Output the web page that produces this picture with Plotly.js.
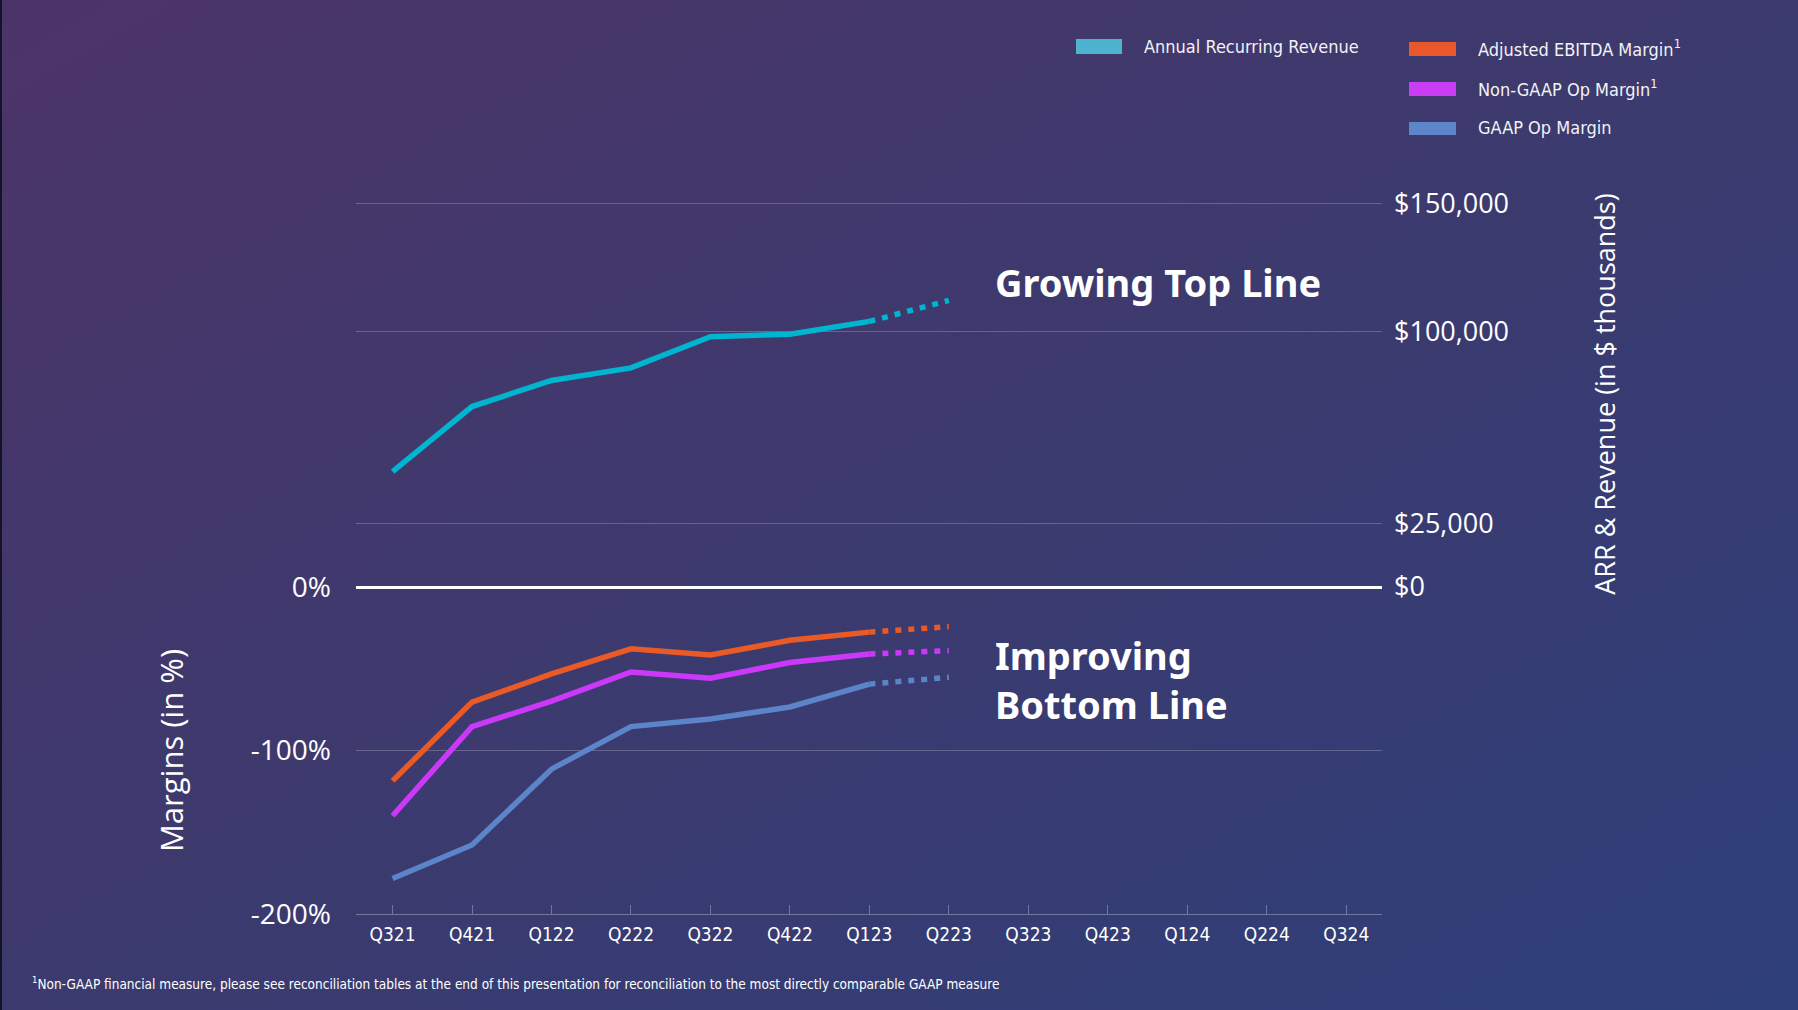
<!DOCTYPE html>
<html>
<head>
<meta charset="utf-8">
<script src="https://cdn.plot.ly/plotly-3.0.1.min.js"></script>
<style>
  html, body { margin: 0; padding: 0; }
  #chart {
    width: 1798px; height: 1010px;
    background: linear-gradient(to bottom right, #4c3468 0%, #3c3a6e 50%, #2e3f7a 100%);
    box-shadow: inset 2px 0 0 #141428;
  }
</style>
</head>
<body>
<div id="chart"></div>
<script>
// ---------- data ----------
const quarters = ['Q321','Q421','Q122','Q222','Q322','Q422','Q123','Q223','Q323','Q423','Q124','Q224','Q324'];
const actualQuarters = ['Q321','Q421','Q122','Q222','Q322','Q422','Q123'];
const projectedQuarter = 'Q223';

// ARR in $ thousands
const arr = [45100, 70600, 80800, 85700, 97900, 98900, 103900];
const arrProjected = 112100;

// Margins in %
const adjEbitdaMargin = [-118.6, -70.4, -53.1, -37.8, -41.6, -32.6, -27.6];
const adjEbitdaProjected = -24.3;
const nonGaapOpMargin = [-139.9, -85.4, -69.8, -52.0, -55.8, -46.2, -41.0];
const nonGaapProjected = -38.9;
const gaapOpMargin = [-178.3, -157.8, -111.4, -85.4, -80.7, -73.4, -59.4];
const gaapProjected = -55.2;

const seriesNames = ['Annual Recurring Revenue', 'Adjusted EBITDA Margin<sup>1</sup>', 'Non-GAAP Op Margin<sup>1</sup>', 'GAAP Op Margin'];

const marginTicks = [0, -100, -200];
const marginTickText = ['0%', '-100%', '-200%'];
const arrTicks = [0, 25000, 100000, 150000];
const arrTickText = ['$0', '$25,000', '$100,000', '$150,000'];

const footnote = '<sup>1</sup>Non-GAAP financial measure, please see reconciliation tables at the end of this presentation for reconciliation to the most directly comparable GAAP measure';

// ---------- styles ----------
const colors = { arr: '#00b5cf', ebitda: '#ea5a27', nongaap: '#cc38fa', gaap: '#5b84c9' };
const legendColors = ['#4cb4cf', '#e9582a', '#c93df5', '#5d85c9'];
const LW = 5.5;
const DOT = '6px,7px';
const condensed = 'DejaVu Sans Condensed, Liberation Sans Narrow, Roboto Condensed, Liberation Sans, sans-serif';

const L = 356, R = 1382, T = 201, B = 914;
const px = p => (p - L) / (R - L);
const py = p => (B - p) / (B - T);
const zeroFrac = (B - 587) / (B - T);

function pair(last, proj) { return [last[last.length - 1], proj]; }

const last = actualQuarters[actualQuarters.length - 1];

const traces = [
  { x: actualQuarters, y: arr, yaxis: 'y2', mode: 'lines', line: { color: colors.arr, width: LW }, name: seriesNames[0] },
  { x: [last, projectedQuarter], y: pair(arr, arrProjected), yaxis: 'y2', mode: 'lines', line: { color: colors.arr, width: LW, dash: DOT } },
  { x: actualQuarters, y: adjEbitdaMargin, mode: 'lines', line: { color: colors.ebitda, width: LW }, name: seriesNames[1] },
  { x: [last, projectedQuarter], y: pair(adjEbitdaMargin, adjEbitdaProjected), mode: 'lines', line: { color: colors.ebitda, width: LW, dash: DOT } },
  { x: actualQuarters, y: nonGaapOpMargin, mode: 'lines', line: { color: colors.nongaap, width: LW }, name: seriesNames[2] },
  { x: [last, projectedQuarter], y: pair(nonGaapOpMargin, nonGaapProjected), mode: 'lines', line: { color: colors.nongaap, width: LW, dash: DOT } },
  { x: actualQuarters, y: gaapOpMargin, mode: 'lines', line: { color: colors.gaap, width: LW }, name: seriesNames[3] },
  { x: [last, projectedQuarter], y: pair(gaapOpMargin, gaapProjected), mode: 'lines', line: { color: colors.gaap, width: LW, dash: DOT } }
];

const gridColor = 'rgba(255,255,255,0.22)';
const numFont = { family: 'Open Sans, sans-serif', color: '#ffffff' };

// legend built from shapes + text
const legendBoxes = [
  { x0: 1076, x1: 1122, y0: 39, y1: 54, tx: 1142, ty: 47 },
  { x0: 1409, x1: 1456, y0: 42, y1: 56, tx: 1476, ty: 48 },
  { x0: 1409, x1: 1456, y0: 82, y1: 96, tx: 1476, ty: 88 },
  { x0: 1409, x1: 1456, y0: 122, y1: 135, tx: 1476, ty: 128 }
];
const shapes = legendBoxes.map((b, i) => ({
  type: 'rect', xref: 'paper', yref: 'paper',
  x0: px(b.x0), x1: px(b.x1), y0: py(b.y1), y1: py(b.y0),
  fillcolor: legendColors[i], line: { width: 0 }
}));
const annotations = legendBoxes.map((b, i) => ({
  xref: 'paper', yref: 'paper', x: px(b.tx), y: py(b.ty), xanchor: 'left', yanchor: 'middle',
  text: seriesNames[i], showarrow: false,
  font: { family: condensed, size: 18, color: '#f2f2f6' }
}));

annotations.push({
  xref: 'paper', yref: 'paper', x: px(993), y: py(282), xanchor: 'left', yanchor: 'middle',
  text: '<b>Growing Top Line</b>', showarrow: false,
  font: { family: 'Noto Sans, sans-serif', size: 38, color: '#ffffff' }
});
annotations.push({
  xref: 'paper', yref: 'paper', x: px(993), y: py(679), xanchor: 'left', yanchor: 'middle', align: 'left',
  text: '<b>Improving<br>Bottom Line</b>', showarrow: false,
  font: { family: 'Noto Sans, sans-serif', size: 38, color: '#ffffff' }
});
annotations.push({
  xref: 'paper', yref: 'paper', x: px(30), y: py(983), xanchor: 'left', yanchor: 'middle',
  text: footnote, showarrow: false,
  font: { family: condensed, size: 13.5, color: '#ffffff' }
});

const layout = {
  width: 1798, height: 1010,
  margin: { l: L, r: 1798 - R, t: T, b: 1010 - B, pad: 0 },
  paper_bgcolor: 'rgba(0,0,0,0)',
  plot_bgcolor: 'rgba(0,0,0,0)',
  showlegend: false,
  xaxis: {
    type: 'category', categoryorder: 'array', categoryarray: quarters,
    tickmode: 'array', tickvals: quarters, ticktext: quarters,
    range: [-0.46, 12.45], showgrid: false, zeroline: false,
    showline: true, linecolor: 'rgba(255,255,255,0.3)', linewidth: 1,
    ticks: 'inside', ticklen: 9, tickwidth: 1, tickcolor: 'rgba(255,255,255,0.3)',
    tickfont: { family: condensed, size: 19, color: '#ffffff' },
    ticklabelstandoff: 3, anchor: 'y'
  },
  yaxis: {
    domain: [0, zeroFrac], range: [-200, 0], anchor: 'x', side: 'left',
    tickmode: 'array', tickvals: marginTicks, ticktext: marginTickText,
    tickfont: Object.assign({ size: 28 }, numFont),
    showgrid: true, gridcolor: gridColor, gridwidth: 1,
    zeroline: true, zerolinecolor: '#ffffff', zerolinewidth: 3,
    ticks: '', ticklabelstandoff: 24,
    title: { text: 'Margins (in %)', font: { family: 'Open Sans, sans-serif', size: 31, color: '#ffffff' }, standoff: 57 }
  },
  yaxis2: {
    domain: [zeroFrac, 1], range: [0, 151000], anchor: 'x', side: 'right',
    tickmode: 'array', tickvals: arrTicks, ticktext: arrTickText,
    tickfont: Object.assign({ size: 27 }, numFont),
    showgrid: true, gridcolor: gridColor, gridwidth: 1, zeroline: false,
    ticks: '', ticklabelstandoff: 11,
    title: { text: 'ARR & Revenue (in $ thousands)', font: { family: 'Open Sans, sans-serif', size: 27, color: '#ffffff' }, standoff: 88 }
  },
  shapes: shapes,
  annotations: annotations
};

Plotly.newPlot('chart', traces, layout, { staticPlot: true, displayModeBar: false });
</script>
</body>
</html>
